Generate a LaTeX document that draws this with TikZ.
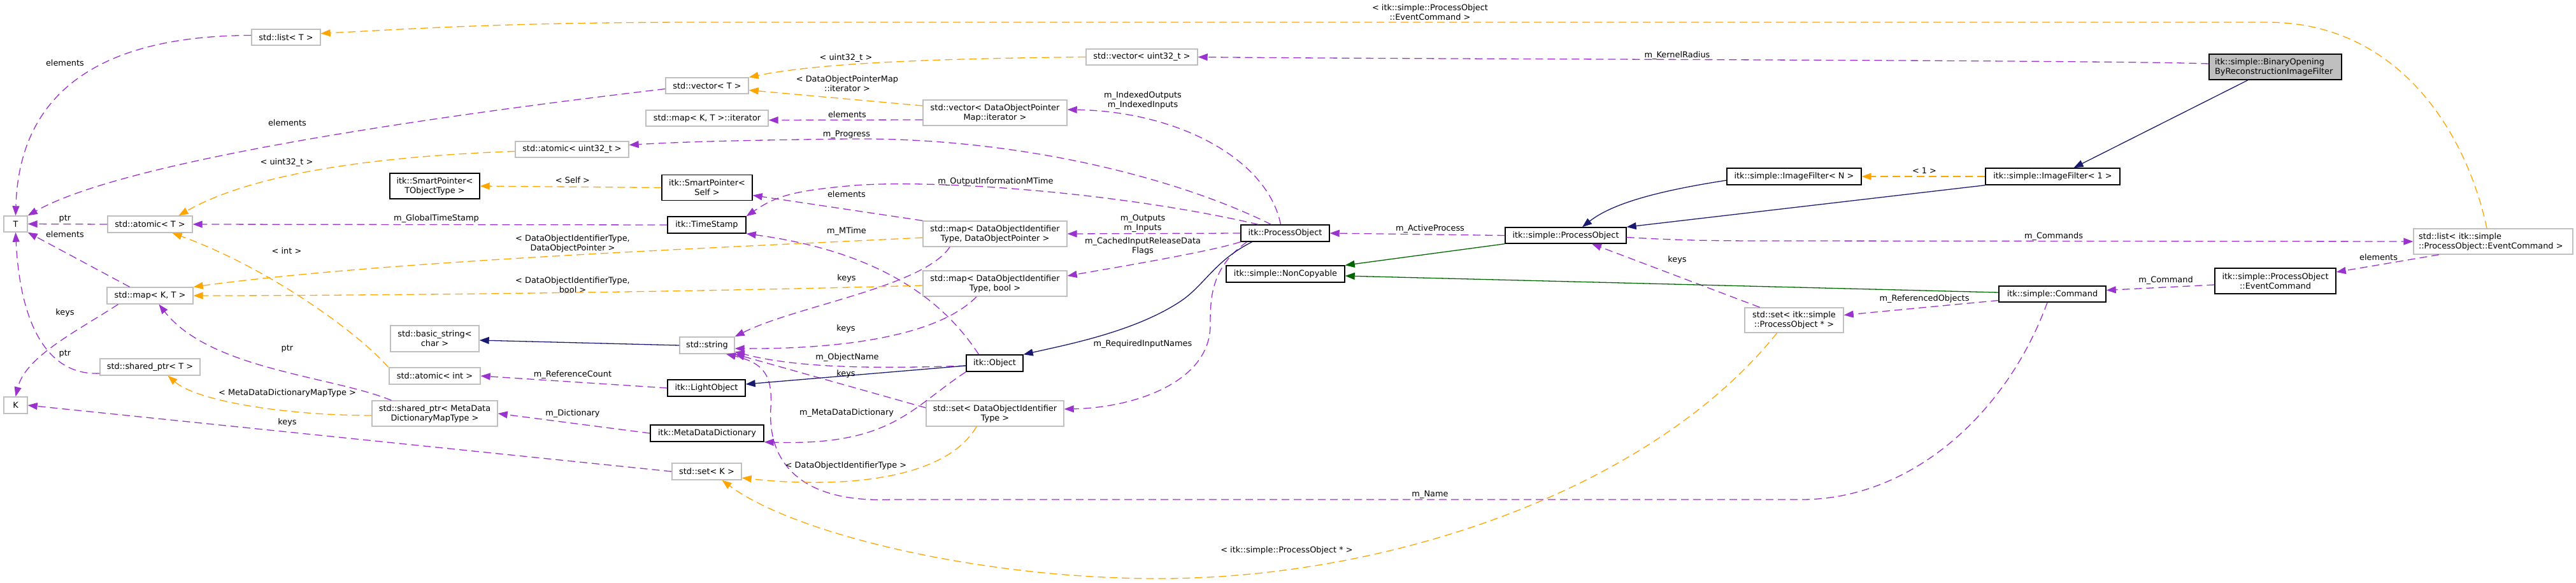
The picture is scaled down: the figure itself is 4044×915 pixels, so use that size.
\documentclass[tikz,border=0pt]{standalone}
\usepackage{fontspec}
\setmainfont{DejaVu Sans}
\usetikzlibrary{arrows.meta}
\definecolor{usecol}{HTML}{9A32CD}
\definecolor{tplcol}{HTML}{FFA500}
\definecolor{inhcol}{HTML}{191970}
\definecolor{grncol}{HTML}{006400}
\definecolor{gborder}{HTML}{BFBFBF}
\definecolor{gfill}{HTML}{BFBFBF}
\begin{document}
\begin{tikzpicture}[x=1pt,y=-1pt,
  every node/.style={font=\fontsize{12.9pt}{15pt}\selectfont},
  gnode/.style={draw=gborder, line width=1.4pt, fill=white, inner sep=0pt, align=center},
  bnode/.style={draw=black, line width=1.4pt, fill=white, inner sep=0pt, align=center},
  lbl/.style={inner sep=0pt, align=center},
  usage/.style={draw=usecol, line width=1.3pt, dash pattern=on 12pt off 7pt, -{Triangle[length=15pt,width=11pt]}},
  tmpl/.style={draw=tplcol, line width=1.3pt, dash pattern=on 12pt off 7pt, -{Triangle[length=15pt,width=11pt]}},
  inh/.style={draw=inhcol, line width=1.3pt, -{Triangle[length=15pt,width=11pt]}},
  inhg/.style={draw=grncol, line width=1.3pt, -{Triangle[length=15pt,width=11pt]}}]
\fill[white] (0,0) rectangle (4044,915);
\useasboundingbox (0,0) rectangle (4044,915);

% nodes
\node[gnode, minimum width=108pt, minimum height=25pt] (listT) at (449,58.5) {std::list< T >};
\node[gnode, minimum width=175pt, minimum height=25pt] (vecu32) at (1792.5,89.5) {std::vector< uint32\_t >};
\node[bnode, fill=gfill, minimum width=208pt, minimum height=40pt, text width=190pt, align=left] (binop) at (3572,105) {itk::simple::BinaryOpening\\ByReconstructionImageFilter};
\node[gnode, minimum width=130pt, minimum height=25pt] (vecT) at (1110,134.5) {std::vector< T >};
\node[gnode, minimum width=226pt, minimum height=40pt] (vecDOP) at (1562,177) {std::vector< DataObjectPointer\\Map::iterator >};
\node[gnode, minimum width=192pt, minimum height=25pt] (mapit) at (1110,185.5) {std::map< K, T >::iterator};
\node[gnode, minimum width=178pt, minimum height=25pt] (atomu32) at (898,234.5) {std::atomic< uint32\_t >};
\node[bnode, minimum width=141pt, minimum height=40pt] (spT) at (682.5,292) {itk::SmartPointer<\\TObjectType >};
\node[bnode, minimum width=142pt, minimum height=40pt] (spSelf) at (1110,294.5) {itk::SmartPointer<\\Self >};
\node[bnode, minimum width=123pt, minimum height=26pt] (ts) at (1109.5,353) {itk::TimeStamp};
\node[gnode, minimum width=37pt, minimum height=25pt] (T) at (24.5,351.5) {T};
\node[gnode, minimum width=133pt, minimum height=26pt] (atomT) at (235.5,352) {std::atomic< T >};
\node[gnode, minimum width=226pt, minimum height=40pt] (mapDOP) at (1562,367) {std::map< DataObjectIdentifier\\Type, DataObjectPointer >};
\node[bnode, minimum width=139pt, minimum height=26pt] (po) at (2017.5,366) {itk::ProcessObject};
\node[bnode, minimum width=190pt, minimum height=25pt] (sPO) at (2458,369.5) {itk::simple::ProcessObject};
\node[gnode, minimum width=250pt, minimum height=40pt, text width=234pt, align=left] (listEC) at (3914,379) {std::list< itk::simple\\::ProcessObject::EventCommand >};
\node[bnode, minimum width=186pt, minimum height=26pt] (nonc) at (2018,430) {itk::simple::NonCopyable};
\node[gnode, minimum width=135pt, minimum height=26pt] (mapKT) at (235.5,464) {std::map< K, T >};
\node[gnode, minimum width=226pt, minimum height=40pt] (mapDOb) at (1562,445) {std::map< DataObjectIdentifier\\Type, bool >};
\node[bnode, minimum width=190pt, minimum height=40pt] (EC) at (3572,441) {itk::simple::ProcessObject\\::EventCommand};
\node[bnode, minimum width=168pt, minimum height=25pt] (cmd) at (3222,461.5) {itk::simple::Command};
\node[gnode, minimum width=155pt, minimum height=39pt] (setPO) at (2816.5,502.5) {std::set< itk::simple\\::ProcessObject * >};
\node[gnode, minimum width=139pt, minimum height=41pt] (bstr) at (682.5,531.5) {std::basic\_string<\\char >};
\node[gnode, minimum width=86pt, minimum height=26pt] (str) at (1110,542) {std::string};
\node[bnode, minimum width=89pt, minimum height=26pt] (obj) at (1561.5,570) {itk::Object};
\node[gnode, minimum width=157pt, minimum height=26pt] (spTT) at (235.5,576) {std::shared\_ptr< T >};
\node[gnode, minimum width=143pt, minimum height=26pt] (atomint) at (682.5,590) {std::atomic< int >};
\node[bnode, minimum width=122pt, minimum height=26pt] (lo) at (1109,609) {itk::LightObject};
\node[gnode, minimum width=37pt, minimum height=26pt] (K) at (24.5,636) {K};
\node[gnode, minimum width=197pt, minimum height=40pt] (spMD) at (682.5,649) {std::shared\_ptr< MetaData\\DictionaryMapType >};
\node[gnode, minimum width=216pt, minimum height=40pt] (setDOI) at (1562,649) {std::set< DataObjectIdentifier\\Type >};
\node[bnode, minimum width=178pt, minimum height=26pt] (mdd) at (1110,680) {itk::MetaDataDictionary};
\node[gnode, minimum width=109pt, minimum height=26pt] (setK) at (1109.5,740) {std::set< K >};
\node[bnode, minimum width=211pt, minimum height=26pt] (ifN) at (2816.5,277) {itk::simple::ImageFilter< N >};
\node[bnode, minimum width=211pt, minimum height=26pt] (if1) at (3222.5,277) {itk::simple::ImageFilter< 1 >};

% usage edges
\draw[usage] ([yshift=3pt]listT.west) .. controls (150,56) and (30,150) .. (T.north);
\draw[usage] ([yshift=-5pt]vecT.west) .. controls (700,180) and (200,250) .. (T.north east);
\draw[usage] (atomT.west) -- (T.east);
\draw[usage] ([xshift=-32pt]mapKT.north) -- (T.south east);
\draw[usage] ([xshift=-50pt]mapKT.south) .. controls (120,520) and (40,560) .. (K.north);
\draw[usage] ([yshift=-10pt]spTT.west) .. controls (60,590) and (30,480) .. (T.south);
\draw[usage] ([xshift=-68pt]spMD.north) .. controls (520,590) and (330,580) .. ([xshift=14pt]mapKT.south);
\draw[usage] (setK.west) -- (K.east);
\draw[usage] (ts.west) -- (atomT.east);
\draw[usage] (lo.west) -- (atomint.east);
\draw[usage] (mdd.west) -- (spMD.east);
\draw[usage] ([yshift=-11pt]vecDOP.west) -- ([yshift=-3pt]mapit.east);
\draw[usage] ([xshift=-22pt]po.north) .. controls (1850,280) and (1600,215) .. (1330,218) .. controls (1180,220) and (1080,222) .. ([yshift=7pt]atomu32.east);
\draw[usage] ([xshift=-7pt]po.north) .. controls (1990,250) and (1850,175) .. ([yshift=5pt]vecDOP.east);
\draw[usage] ([xshift=-42pt]po.north) .. controls (1750,300) and (1450,280) .. (1330,292) .. controls (1240,300) and (1215,310) .. (ts.north east);
\draw[usage] (mapDOP.north west) -- ([yshift=-12pt]spSelf.east);
\draw[usage] (po.west) -- (mapDOP.east);
\draw[usage] ([xshift=-25pt]obj.north) .. controls (1480,470) and (1380,395) .. (ts.south east);
\draw[usage] (po.south west) .. controls (1900,395) and (1750,420) .. ([yshift=12pt]mapDOb.east);
\draw[usage] ([xshift=-71pt]mapDOP.south) .. controls (1450,450) and (1250,480) .. (str.north east);
\draw[usage] ([xshift=-29pt]mapDOb.south) .. controls (1480,520) and (1350,548) .. ([yshift=-5pt]str.east);
\draw[usage] ([yshift=-4pt]obj.west) .. controls (1350,580) and (1240,575) .. ([yshift=-10pt]str.east);
\draw[usage] ([yshift=9pt]setDOI.west) -- (str.south east);
\draw[usage] (obj.south west) .. controls (1430,640) and (1400,700) .. (mdd.south east);
\draw[usage] ([xshift=-60pt]po.south) .. controls (1900,420) and (1900,470) .. (1900,510) .. controls (1900,600) and (1780,640) .. ([yshift=7pt]setDOI.east);
\draw[usage] ([xshift=-8pt]cmd.south) .. controls (3150,650) and (3000,784) .. (2828,784) -- (1400,784) .. controls (1250,790) and (1205,720) .. (1210,640) .. controls (1213,590) and (1200,570) .. ([xshift=30pt]str.south);
\draw[usage] (sPO.west) -- (po.east);
\draw[usage] ([yshift=-3pt]sPO.east) .. controls (2650,378) and (2700,378) .. (2800,378) -- (listEC.west);
\draw[usage] ([yshift=5pt]binop.west) .. controls (3300,94) and (2200,93) .. (vecu32.east);
\draw[usage] ([xshift=-85pt]listEC.south) -- ([yshift=14pt]EC.east);
\draw[usage] ([yshift=-6pt]EC.west) -- ([yshift=6pt]cmd.east);
\draw[usage] ([yshift=-10pt]cmd.west) -- ([yshift=8pt]setPO.east);
\draw[usage] ([xshift=-54pt]setPO.north) -- ([xshift=41pt]sPO.south);

% template edges
\draw[tmpl] (vecu32.west) .. controls (1450,92) and (1280,100) .. (vecT.north east);
\draw[tmpl] ([yshift=11pt]vecDOP.west) -- ([yshift=-7pt]vecT.east);
\draw[tmpl] ([yshift=-3pt]atomu32.west) .. controls (600,245) and (400,270) .. ([xshift=45pt]atomT.north);
\draw[tmpl] (spSelf.west) -- (spT.east);
\draw[tmpl] ([yshift=-6pt]mapDOP.west) .. controls (1100,390) and (600,410) .. (mapKT.north east);
\draw[tmpl] ([yshift=-3pt]mapDOb.west) .. controls (1100,458) and (600,464) .. (mapKT.east);
\draw[tmpl] ([xshift=-73pt]atomint.north) .. controls (560,520) and (420,420) .. ([xshift=35pt]atomT.south);
\draw[tmpl] ([yshift=-3pt]spMD.west) .. controls (450,652) and (310,630) .. ([xshift=28pt]spTT.south);
\draw[tmpl] ([xshift=-29pt]setDOI.south) .. controls (1480,760) and (1300,765) .. ([yshift=-10pt]setK.east);
\draw[tmpl] ([xshift=-27pt]setPO.south) .. controls (2600,760) and (2200,905) .. (1830,908) .. controls (1550,910) and (1250,840) .. ([xshift=24pt]setK.south);
\draw[tmpl] (if1.west) -- (ifN.east);
\draw[tmpl] ([xshift=-10pt]listEC.north) .. controls (3870,200) and (3760,35) .. (3560,35) -- (1100,35) .. controls (800,35) and (650,45) .. ([yshift=6pt]listT.east);

% inheritance edges
\draw[inh] ([xshift=-43pt]binop.south) -- ([xshift=33pt]if1.north);
\draw[inh] (if1.south west) -- (sPO.north east);
\draw[inh] ([yshift=-6pt]ifN.west) .. controls (2600,300) and (2530,320) .. ([xshift=26pt]sPO.north);
\draw[inh] ([xshift=-52pt]po.south) .. controls (1905,410) and (1890,450) .. (1850,475) .. controls (1780,520) and (1680,540) .. (obj.north east);
\draw[inh] ([yshift=-4pt]obj.west) -- ([yshift=6pt]lo.east);
\draw[inh] (str.west) -- ([yshift=-2.5pt]bstr.east);
\draw[inhg] (sPO.south west) -- (nonc.north east);
\draw[inhg] ([yshift=2.5pt]cmd.west) -- ([yshift=-3pt]nonc.east);

% labels
\node[lbl] (l01) at (102,99) {elements};
\node[lbl] (l02) at (451,193) {elements};
\node[lbl] (l03) at (450,255) {< uint32\_t >};
\node[lbl] (l04) at (899,283) {< Self >};
\node[lbl] (l05) at (102,343) {ptr};
\node[lbl] (l06) at (102,368) {elements};
\node[lbl] (l07) at (685,343) {m\_GlobalTimeStamp};
\node[lbl] (l08) at (899,382) {< DataObjectIdentifierType,\\DataObjectPointer >};
\node[lbl] (l09) at (450,394) {< int >};
\node[lbl] (l10) at (899,447) {< DataObjectIdentifierType,\\bool >};
\node[lbl] (l11) at (102,491) {keys};
\node[lbl] (l12) at (102,555) {ptr};
\node[lbl] (l13) at (451,547) {ptr};
\node[lbl] (l14) at (451,617) {< MetaDataDictionaryMapType >};
\node[lbl] (l15) at (899,588) {m\_ReferenceCount};
\node[lbl] (l16) at (899,649) {m\_Dictionary};
\node[lbl] (l17) at (451,663) {keys};
\node[lbl] (l18) at (1328,91) {< uint32\_t >};
\node[lbl] (l19) at (1330,131) {< DataObjectPointerMap\\::iterator >};
\node[lbl] (l20) at (1330,180) {elements};
\node[lbl] (l21) at (1794,158) {m\_IndexedOutputs\\m\_IndexedInputs};
\node[lbl] (l22) at (1329,211) {m\_Progress};
\node[lbl] (l23) at (1563,285) {m\_OutputInformationMTime};
\node[lbl] (l24) at (1329,305) {elements};
\node[lbl] (l25) at (1794,351) {m\_Outputs\\m\_Inputs};
\node[lbl] (l26) at (1329,363) {m\_MTime};
\node[lbl] (l27) at (1794,386) {m\_CachedInputReleaseData\\Flags};
\node[lbl] (l28) at (1329,437) {keys};
\node[lbl] (l29) at (1328,516) {keys};
\node[lbl] (l30) at (1330,561) {m\_ObjectName};
\node[lbl] (l31) at (1328,587) {keys};
\node[lbl] (l32) at (1794,540) {m\_RequiredInputNames};
\node[lbl] (l33) at (1329,648) {m\_MetaDataDictionary};
\node[lbl] (l34) at (1328,731) {< DataObjectIdentifierType >};
\node[lbl] (l35) at (2020,864) {< itk::simple::ProcessObject * >};
\node[lbl] (l36) at (2245,776) {m\_Name};
\node[lbl] (l37) at (2245,19) {< itk::simple::ProcessObject\\::EventCommand >};
\node[lbl] (l38) at (2633,87) {m\_KernelRadius};
\node[lbl] (l39) at (3021,268) {< 1 >};
\node[lbl] (l40) at (2245,359) {m\_ActiveProcess};
\node[lbl] (l41) at (2633,408) {keys};
\node[lbl] (l42) at (3021,469) {m\_ReferencedObjects};
\node[lbl] (l43) at (3224,371) {m\_Commands};
\node[lbl] (l44) at (3734,404) {elements};
\node[lbl] (l45) at (3400,440) {m\_Command};
\end{tikzpicture}
\end{document}
